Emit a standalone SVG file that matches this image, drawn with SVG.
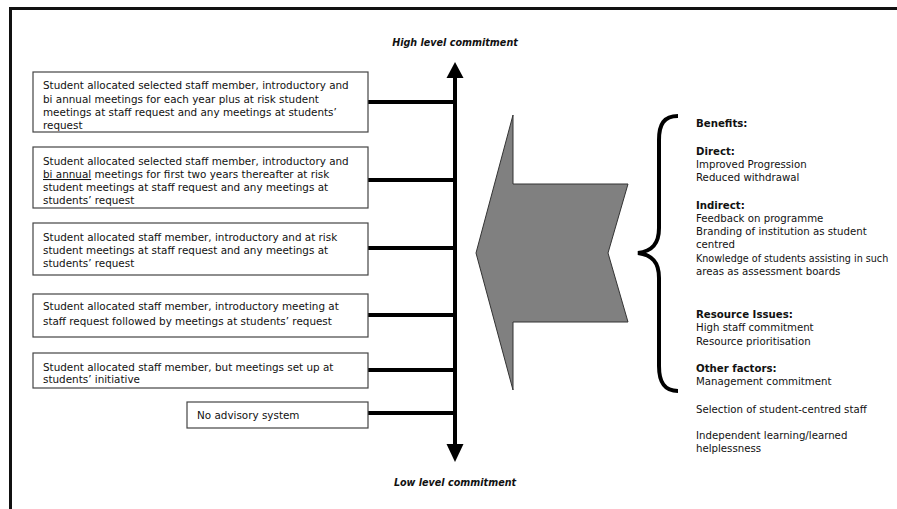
<svg xmlns="http://www.w3.org/2000/svg" width="897" height="509" viewBox="0 0 897 509">
<defs>
<style>
.frame{fill:none;stroke:#111;stroke-width:3}
.box{fill:#fff;stroke:#444;stroke-width:1.2}
.t{font-family:"DejaVu Sans",Verdana,sans-serif;font-size:10.4px;fill:#111}
.r{font-family:"DejaVu Sans",Verdana,sans-serif;font-size:10.2px;fill:#111}
.b{font-weight:bold}
.h{font-family:"DejaVu Sans",Verdana,sans-serif;font-size:9.6px;font-weight:bold;font-style:italic;fill:#111;text-anchor:middle}
.con{stroke:#000;stroke-width:4;fill:none}
</style>
</defs>
<rect x="0" y="0" width="897" height="509" fill="#fff"/>
<path class="frame" d="M10.5,509 V8.5 H900"/>
<text class="h" x="455" y="46">High level commitment</text>
<text class="h" x="455" y="486">Low level commitment</text>
<g id="connectors">
<line class="con" x1="455" y1="76" x2="455" y2="446"/>
<polygon points="455,62 446.5,78 463.5,78" fill="#000"/>
<polygon points="455,462 446.5,444 463.5,444" fill="#000"/>
<line class="con" x1="368" y1="102" x2="455" y2="102"/>
<line class="con" x1="368" y1="180" x2="455" y2="180"/>
<line class="con" x1="368" y1="248" x2="455" y2="248"/>
<line class="con" x1="368" y1="315" x2="455" y2="315"/>
<line class="con" x1="368" y1="370" x2="455" y2="370"/>
<line class="con" x1="368" y1="413" x2="455" y2="413"/>
</g>
<g id="box1">
<rect class="box" x="33" y="72" width="335" height="60"/>
<text class="t" x="43" y="89">Student allocated selected staff member, introductory and</text>
<text class="t" x="43" y="102.5">bi annual meetings for each year plus at risk student</text>
<text class="t" x="43" y="116">meetings at staff request and any meetings at students’</text>
<text class="t" x="43" y="129">request</text>
</g>
<g id="box2">
<rect class="box" x="33" y="147" width="335" height="61"/>
<text class="t" x="43" y="165">Student allocated selected staff member, introductory and</text>
<text class="t" x="43" y="178"><tspan text-decoration="underline">bi annual</tspan> meetings for first two years thereafter at risk</text>
<text class="t" x="43" y="191">student meetings at staff request and any meetings at</text>
<text class="t" x="43" y="204">students’ request</text>
</g>
<g id="box3">
<rect class="box" x="33" y="223" width="335" height="52"/>
<text class="t" x="43" y="241">Student allocated staff member, introductory and at risk</text>
<text class="t" x="43" y="254">student meetings at staff request and any meetings at</text>
<text class="t" x="43" y="267">students’ request</text>
</g>
<g id="box4">
<rect class="box" x="33" y="294" width="335" height="43"/>
<text class="t" x="43" y="310">Student allocated staff member, introductory meeting at</text>
<text class="t" x="43" y="325">staff request followed by meetings at students’ request</text>
</g>
<g id="box5">
<rect class="box" x="33" y="353" width="335" height="35"/>
<text class="t" x="43" y="371">Student allocated staff member, but meetings set up at</text>
<text class="t" x="43" y="383">students’ initiative</text>
</g>
<g id="box6">
<rect class="box" x="187" y="402" width="181" height="26"/>
<text class="t" x="197" y="419">No advisory system</text>
</g>
<g id="bigArrow">
<polygon points="513,115 513,184 628,184 608,253 628,322 513,322 513,390 476,253" fill="#808080" stroke="#333" stroke-width="1"/>
</g>
<g id="brace">
<path d="M678,116 C664,116 659,124 659,140 V228 C659,244 652,251 638,253 C652,255 659,262 659,278 V366 C659,382 664,391 678,391" fill="none" stroke="#000" stroke-width="4"/>
</g>
<g id="factors">
<text class="r b" x="696" y="127">Benefits:</text>
<text class="r b" x="696" y="155">Direct:</text>
<text class="r" x="696" y="168">Improved Progression</text>
<text class="r" x="696" y="181">Reduced withdrawal</text>
<text class="r b" x="696" y="209">Indirect:</text>
<text class="r" x="696" y="222">Feedback on programme</text>
<text class="r" x="696" y="235">Branding of institution as student</text>
<text class="r" x="696" y="248">centred</text>
<text class="r" x="696" y="262" style="font-size:9.6px">Knowledge of students assisting in such</text>
<text class="r" x="696" y="275">areas as assessment boards</text>
<text class="r b" x="696" y="318">Resource Issues:</text>
<text class="r" x="696" y="331">High staff commitment</text>
<text class="r" x="696" y="345">Resource prioritisation</text>
<text class="r b" x="696" y="372">Other factors:</text>
<text class="r" x="696" y="385">Management commitment</text>
<text class="r" x="696" y="413">Selection of student-centred staff</text>
<text class="r" x="696" y="439">Independent learning/learned</text>
<text class="r" x="696" y="452">helplessness</text>
</g>
</svg>
